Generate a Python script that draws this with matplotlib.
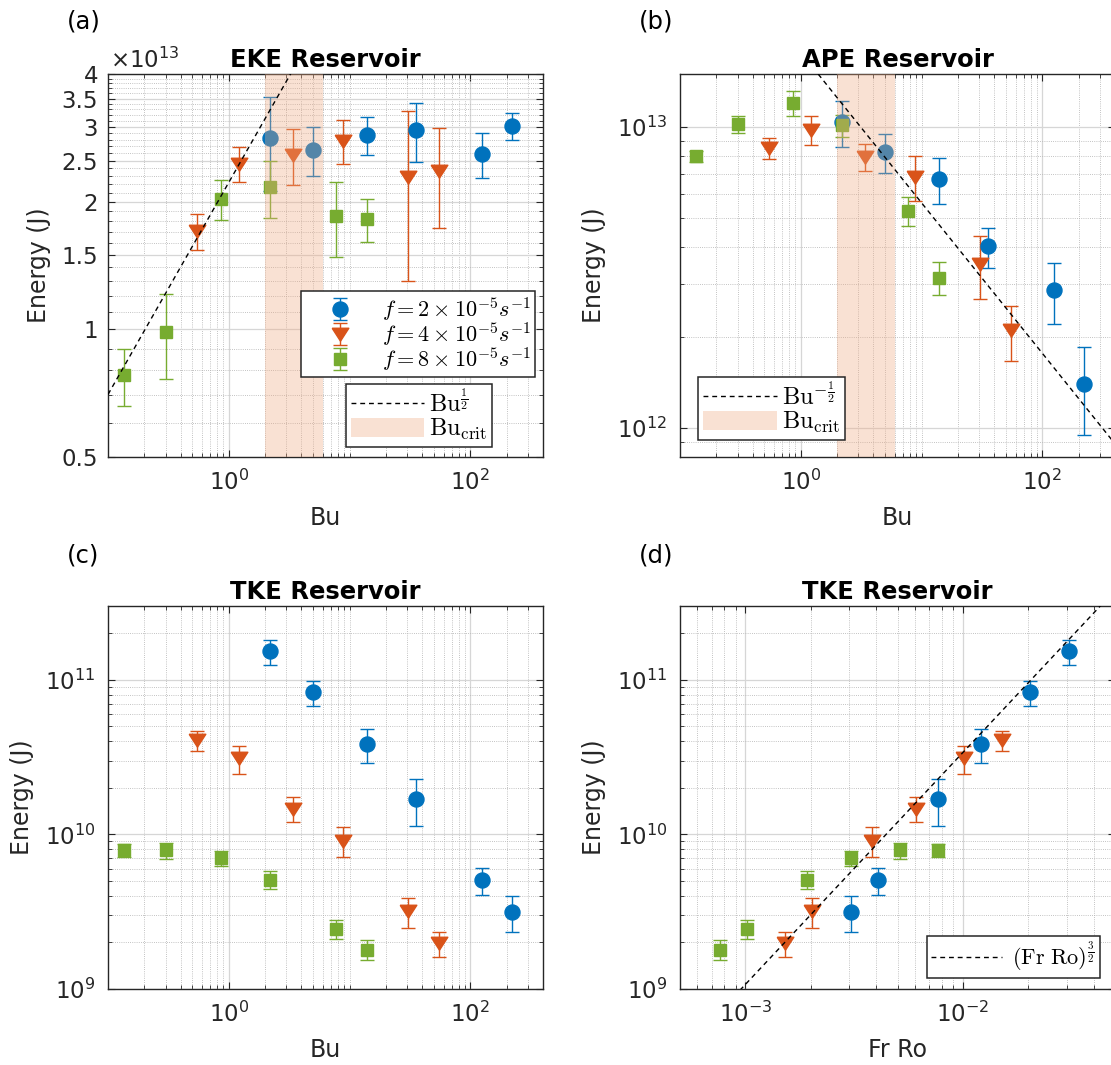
import numpy as np
import matplotlib
matplotlib.use("Agg")
import matplotlib.pyplot as plt
from matplotlib.ticker import (FixedLocator, FuncFormatter, LogLocator,
                               LogFormatterSciNotation, NullFormatter)
from matplotlib.lines import Line2D
from matplotlib.patches import Patch

plt.rcParams["font.family"] = ["DejaVu Sans"]
plt.rcParams["mathtext.fontset"] = "cm"

W, H = 1111, 1065

# ---------------------------------------------------------------- data
# Burger number of each run, grouped by Coriolis parameter
bu_f2 = [2.2, 5.0, 13.9, 35.5, 125.0, 223.0]
bu_f4 = [0.55, 1.22, 3.43, 8.85, 30.7, 55.2]
bu_f8 = [0.135, 0.305, 0.86, 2.2, 7.8, 13.9]

# Froude * Rossby number of each run
frro_f2 = [3.06e-2, 2.026e-2, 1.215e-2, 7.67e-3, 4.06e-3, 3.05e-3]
frro_f4 = [1.517e-2, 1.011e-2, 6.1e-3, 3.81e-3, 2.03e-3, 1.527e-3]
frro_f8 = [7.67e-3, 5.11e-3, 3.05e-3, 1.915e-3, 1.018e-3, 7.62e-4]

# Eddy kinetic energy (J): mean and standard deviation
eke_f2 = [2.83e13, 2.65e13, 2.865e13, 2.95e13, 2.59e13, 3.015e13]
eke_f2_std = [0.71e13, 0.35e13, 0.295e13, 0.47e13, 0.31e13, 0.215e13]
eke_f4 = [1.705e13, 2.46e13, 2.575e13, 2.78e13, 2.285e13, 2.36e13]
eke_f4_std = [0.165e13, 0.23e13, 0.385e13, 0.33e13, 0.985e13, 0.63e13]
eke_f8 = [0.78e13, 0.988e13, 2.03e13, 2.165e13, 1.85e13, 1.82e13]
eke_f8_std = [0.12e13, 0.224e13, 0.22e13, 0.335e13, 0.37e13, 0.21e13]

# Available potential energy (J)
ape_f2 = [1.037e13, 8.24e12, 6.72e12, 4.015e12, 2.865e12, 1.401e12]
ape_f2_std = [1.805e12, 1.21e12, 1.17e12, 0.615e12, 0.655e12, 0.456e12]
ape_f4 = [8.51e12, 9.77e12, 7.96e12, 6.84e12, 3.51e12, 2.1075e12]
ape_f4_std = [0.68e12, 1.08e12, 0.84e12, 1.15e12, 0.82e12, 0.4425e12]
ape_f8 = [8.005e12, 1.021e13, 1.204e13, 1.0125e13, 5.275e12, 3.16e12]
ape_f8_std = [0.335e12, 0.64e12, 1.16e12, 0.865e12, 0.595e12, 0.39e12]

# Turbulent kinetic energy (J)
tke_f2 = [1.53e11, 8.325e10, 3.85e10, 1.703e10, 5.07e9, 3.17e9]
tke_f2_std = [0.28e11, 1.525e10, 0.95e10, 0.577e10, 1.03e9, 0.85e9]
tke_f4 = [4.075e10, 3.10e10, 1.47e10, 9.12e9, 3.185e9, 1.97e9]
tke_f4_std = [0.595e10, 0.63e10, 0.27e10, 1.98e9, 0.715e9, 0.35e9]
tke_f8 = [7.91e9, 7.87e9, 7.05e9, 5.105e9, 2.455e9, 1.80e9]
tke_f8_std = [0.8e9, 0.97e9, 0.8e9, 0.665e9, 0.335e9, 0.26e9]

# Power-law references and critical Burger range
eke_coef = 2.22e13   # EKE ~ Bu^(1/2)
ape_coef = 1.77e13   # APE ~ Bu^(-1/2)
tke_coef = 3.39e13   # TKE ~ (Fr Ro)^(3/2)
bu_crit = [2.0, 6.0]

series_labels = [r"$f = 2\times10^{-5}s^{-1}$",
                 r"$f = 4\times10^{-5}s^{-1}$",
                 r"$f = 8\times10^{-5}s^{-1}$"]

# ---------------------------------------------------------------- style
C_BLUE = "#0072BD"
C_RED = "#D95319"
C_GREEN = "#77AC30"
SHADE = (0.941, 0.667, 0.510)
SHADE_ALPHA = 0.35
INK = "#262626"
TRI = [(-1.0, 0.75), (1.0, 0.75), (0.0, -0.8), (-1.0, 0.75)]

fig = plt.figure(figsize=(W / 100, H / 100), dpi=100)


def add_axes(l, t, r, b):
    return fig.add_axes([l / W, 1 - b / H, (r - l) / W, (b - t) / H])


ax_a = add_axes(108, 74, 543, 457)
ax_b = add_axes(680, 74, 1115, 457)
ax_c = add_axes(108, 606, 543, 989)
ax_d = add_axes(680, 606, 1115, 989)


def style(ax):
    ax.set_xscale("log")
    ax.set_yscale("log")
    ax.tick_params(which="both", direction="in", top=True, right=True,
                   colors=INK, labelcolor=INK, labelsize=16.5)
    ax.tick_params(which="major", length=5, width=0.8, pad=9)
    ax.tick_params(which="minor", length=3, width=0.6)
    ax.grid(which="major", color="#d6d6d6", lw=0.9, ls="-")
    ax.grid(which="minor", color="#b0b0b0", lw=0.6, ls=(0, (1, 1.6)))
    ax.set_axisbelow(True)
    for s in ax.spines.values():
        s.set_color(INK)
        s.set_linewidth(1.0)
    ax.set_ylabel("Energy (J)", fontsize=17, color=INK, labelpad=8)


def bu_xaxis(ax):
    ax.set_xlim(0.1, 400)
    ax.xaxis.set_major_locator(FixedLocator([1, 100]))
    minors = [k * 10.0 ** n for n in range(-1, 3) for k in range(1, 10)
              if 0.1 <= k * 10.0 ** n <= 400 and k * 10.0 ** n not in (1, 100)]
    ax.xaxis.set_minor_locator(FixedLocator(minors))
    ax.xaxis.set_major_formatter(LogFormatterSciNotation())
    ax.xaxis.set_minor_formatter(NullFormatter())
    ax.set_xlabel("Bu", fontsize=17, color=INK, labelpad=8)


def draw(ax, x, y, err, color, marker, ms, label):
    return ax.errorbar(x, y, yerr=err, marker=marker, linestyle="none",
                       color=color, mfc=color, mec=color, ms=ms,
                       elinewidth=1.0, capsize=5, capthick=1.0,
                       label=label, zorder=3)


def draw_all(ax, xs, ys, errs):
    h1 = draw(ax, xs[0], ys[0], errs[0], C_BLUE, "o", 10.8, series_labels[0])
    h2 = draw(ax, xs[1], ys[1], errs[1], C_RED, TRI, 12, series_labels[1])
    h3 = draw(ax, xs[2], ys[2], errs[2], C_GREEN, "s", 8.8, series_labels[2])
    return [h1, h2, h3]


def legend_at(ax, handles, labels, left, top, fs, **kw):
    leg = ax.legend(handles, labels, loc="upper left",
                    bbox_to_anchor=(left / W, 1 - top / H),
                    bbox_transform=fig.transFigure, borderaxespad=0,
                    fontsize=fs, frameon=True, fancybox=False,
                    framealpha=1, edgecolor=INK, borderpad=0.2, **kw)
    leg.get_frame().set_linewidth(1.1)
    leg.set_zorder(10)
    return leg


dash = (0, (3.5, 2.8))

# ---------------------------------------------------------------- (a) EKE
style(ax_a)
bu_xaxis(ax_a)
handles = draw_all(ax_a, [bu_f2, bu_f4, bu_f8], [eke_f2, eke_f4, eke_f8],
                   [eke_f2_std, eke_f4_std, eke_f8_std])
ax_a.axvspan(bu_crit[0], bu_crit[1], color=SHADE, alpha=SHADE_ALPHA, lw=0, zorder=4)
xx = np.logspace(-1, np.log10(400), 200)
ax_a.plot(xx, eke_coef * xx ** 0.5, color="k", lw=1.0, ls=dash, zorder=5)
ax_a.set_ylim(0.5e13, 4e13)
yt = [0.5, 1, 1.5, 2, 2.5, 3, 3.5, 4]
ax_a.yaxis.set_major_locator(FixedLocator([v * 1e13 for v in yt]))
ax_a.yaxis.set_minor_locator(FixedLocator(
    [v * 1e13 for v in np.arange(0.5, 4.001, 0.1) if round(v, 1) not in yt]))
ax_a.yaxis.set_major_formatter(FuncFormatter(lambda v, p: f"{v / 1e13:g}"))
ax_a.yaxis.set_minor_formatter(NullFormatter())
ax_a.tick_params(axis="y", which="major", pad=7)
ax_a.set_title("EKE Reservoir", fontsize=17.5, fontweight="bold", pad=5)
fig.text(110 / W, 1 - 68 / H, "×$\\mathdefault{10^{13}}$", fontsize=16.5,
         color=INK, ha="left", va="baseline")

leg1 = legend_at(ax_a, handles, series_labels, 300.7, 290.7, 16,
                 handlelength=3.1, handletextpad=0.35, labelspacing=-0.12)
ax_a.add_artist(leg1)
line_h = Line2D([], [], color="k", lw=1.0, ls=dash)
patch_h = Patch(facecolor=SHADE, alpha=SHADE_ALPHA, lw=0)
legend_at(ax_a, [line_h, patch_h],
          [r"$\mathrm{Bu}^{\frac{1}{2}}$", r"$\mathrm{Bu}_{\mathrm{crit}}$"],
          346, 384, 17.5, handlelength=3.0, handletextpad=0.2, handleheight=0.82,
          labelspacing=0.0)

# ---------------------------------------------------------------- (b) APE
style(ax_b)
bu_xaxis(ax_b)
draw_all(ax_b, [bu_f2, bu_f4, bu_f8], [ape_f2, ape_f4, ape_f8],
         [ape_f2_std, ape_f4_std, ape_f8_std])
ax_b.axvspan(bu_crit[0], bu_crit[1], color=SHADE, alpha=SHADE_ALPHA, lw=0, zorder=4)
ax_b.plot(xx, ape_coef * xx ** -0.5, color="k", lw=1.0, ls=dash, zorder=5)
ax_b.set_ylim(8e11, 1.5e13)
ax_b.yaxis.set_major_locator(LogLocator(base=10, numticks=10))
ax_b.yaxis.set_minor_locator(LogLocator(base=10, subs=np.arange(2, 10), numticks=10))
ax_b.yaxis.set_minor_formatter(NullFormatter())
ax_b.set_title("APE Reservoir", fontsize=17.5, fontweight="bold", pad=5)
legend_at(ax_b, [line_h, patch_h],
          [r"$\mathrm{Bu}^{-\frac{1}{2}}$", r"$\mathrm{Bu}_{\mathrm{crit}}$"],
          697.7, 376.7, 17.5, handlelength=3.05, handletextpad=0.2,
          handleheight=0.82, labelspacing=0.0)

# ---------------------------------------------------------------- (c) TKE vs Bu
style(ax_c)
bu_xaxis(ax_c)
draw_all(ax_c, [bu_f2, bu_f4, bu_f8], [tke_f2, tke_f4, tke_f8],
         [tke_f2_std, tke_f4_std, tke_f8_std])
ax_c.set_ylim(1e9, 3e11)
ax_c.yaxis.set_major_locator(LogLocator(base=10, numticks=10))
ax_c.yaxis.set_minor_locator(LogLocator(base=10, subs=np.arange(2, 10), numticks=10))
ax_c.yaxis.set_minor_formatter(NullFormatter())
ax_c.set_title("TKE Reservoir", fontsize=17.5, fontweight="bold", pad=5)

# ---------------------------------------------------------------- (d) TKE vs Fr Ro
style(ax_d)
draw_all(ax_d, [frro_f2, frro_f4, frro_f8], [tke_f2, tke_f4, tke_f8],
         [tke_f2_std, tke_f4_std, tke_f8_std])
xr = np.logspace(np.log10(5e-4), np.log10(5e-2), 200)
ax_d.plot(xr, tke_coef * xr ** 1.5, color="k", lw=1.0, ls=dash, zorder=5)
ax_d.set_xlim(5e-4, 5e-2)
ax_d.set_ylim(1e9, 3e11)
ax_d.xaxis.set_major_locator(LogLocator(base=10, numticks=10))
ax_d.xaxis.set_minor_locator(LogLocator(base=10, subs=np.arange(2, 10), numticks=10))
ax_d.xaxis.set_minor_formatter(NullFormatter())
ax_d.yaxis.set_major_locator(LogLocator(base=10, numticks=10))
ax_d.yaxis.set_minor_locator(LogLocator(base=10, subs=np.arange(2, 10), numticks=10))
ax_d.yaxis.set_minor_formatter(NullFormatter())
ax_d.set_xlabel("Fr Ro", fontsize=17, color=INK, labelpad=8)
ax_d.set_title("TKE Reservoir", fontsize=17.5, fontweight="bold", pad=5)
legend_at(ax_d, [line_h], [r"$(\mathrm{Fr\ Ro})^{\frac{3}{2}}$"],
          926.7, 936, 16, handlelength=3.2, handletextpad=0.45)

# ---------------------------------------------------------------- panel tags
for tag, x, y in [("(a)", 67, 22), ("(b)", 639, 22), ("(c)", 67, 556), ("(d)", 639, 556)]:
    fig.text(x / W, 1 - y / H, tag, fontsize=17.5, color="k", ha="left", va="center")

fig.savefig("out.png", dpi=100)
